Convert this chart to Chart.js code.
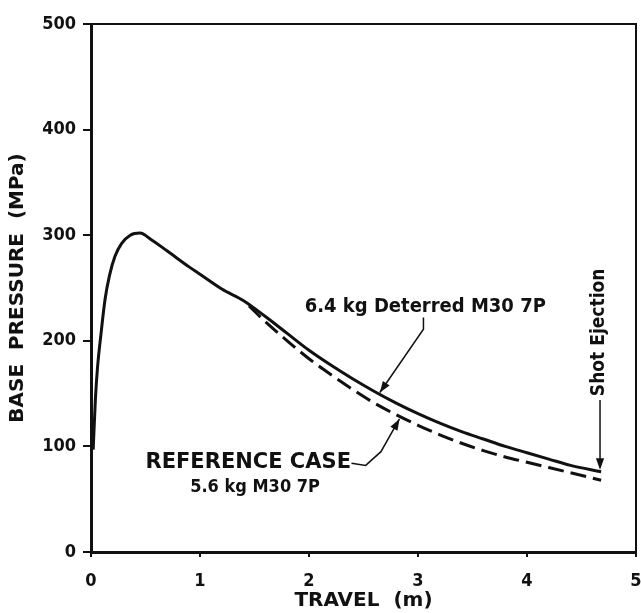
<!DOCTYPE html>
<html>
<head>
<meta charset="utf-8">
<script src="https://cdn.jsdelivr.net/npm/chart.js@4.4.1/dist/chart.umd.min.js"></script>
<style>
  html, body { margin: 0; padding: 0; background: #fff; }
  canvas { display: block; }
</style>
</head>
<body>
<canvas id="pressureChart" width="641" height="613"></canvas>
<script>
// travel (m) and base pressure (MPa)
const travelDeterred = [0.02, 0.04, 0.06, 0.09, 0.13, 0.17, 0.22, 0.28, 0.36, 0.45, 0.55, 0.7, 0.9, 1.0, 1.2, 1.4, 1.6, 1.8, 2.0, 2.2, 2.4, 2.6, 2.8, 3.0, 3.2, 3.4, 3.6, 3.8, 4.0, 4.2, 4.4, 4.68];
const pressureDeterred = [97, 144, 175, 205, 240, 262, 280, 292, 300, 302, 296, 285, 270, 263, 249, 238, 223, 207, 191, 177, 164, 152, 141, 131, 122, 114, 107, 100, 94, 88, 82, 76];

const travelReference = [1.45, 1.6, 1.8, 2.0, 2.2, 2.4, 2.6, 2.8, 3.0, 3.2, 3.4, 3.6, 3.8, 4.0, 4.2, 4.4, 4.68];
const pressureReference = [233, 218, 200, 183, 168, 154, 141, 130, 120, 111, 103, 96, 90, 85, 80, 75, 68];

const xTicks = [0, 1, 2, 3, 4, 5];
const yTicks = [0, 100, 200, 300, 400, 500];

function toPoints(xs, ys) {
    var pts = [];
    var i = 0;
    while (i < xs.length) {
        pts.push({ x: xs[i], y: ys[i] });
        i++;
    }
    return pts;
}

const narrow = "'DejaVu Sans Condensed', 'Liberation Sans Narrow', sans-serif";

function arrowHead(ctx, x1, y1, x2, y2, size) {
    const a = Math.atan2(y2 - y1, x2 - x1);
    ctx.beginPath();
    ctx.moveTo(x2, y2);
    ctx.lineTo(x2 - size * Math.cos(a - 0.35), y2 - size * Math.sin(a - 0.35));
    ctx.lineTo(x2 - size * Math.cos(a + 0.35), y2 - size * Math.sin(a + 0.35));
    ctx.closePath();
    ctx.fill();
}

// frame + labels with leader arrows
const notes = {
    id: 'notes',
    afterDraw(chart) {
        const ctx = chart.ctx;
        const a = chart.chartArea;
        const xs = chart.scales.x;
        const ys = chart.scales.y;
        const px = v => xs.getPixelForValue(v);
        const py = v => ys.getPixelForValue(v);

        ctx.save();
        ctx.strokeStyle = '#111';
        ctx.fillStyle = '#111';
        ctx.lineWidth = 2;
        ctx.beginPath();
        ctx.moveTo(a.left, a.top);
        ctx.lineTo(a.right, a.top);
        ctx.lineTo(a.right, a.bottom);
        ctx.stroke();

        ctx.textBaseline = 'middle';
        ctx.textAlign = 'left';
        ctx.font = 'bold 20px ' + narrow;
        ctx.fillText('6.4 kg Deterred M30 7P', px(1.96), py(232));

        ctx.lineWidth = 1.5;
        ctx.beginPath();
        ctx.moveTo(px(3.05), py(222));
        ctx.lineTo(px(3.05), py(211));
        ctx.lineTo(px(2.65), py(151));
        ctx.stroke();
        arrowHead(ctx, px(3.05), py(211), px(2.65), py(151), 12);

        ctx.font = 'bold 21px DejaVu Sans, sans-serif';
        ctx.fillText('REFERENCE CASE', px(0.5), py(85));
        ctx.font = 'bold 18px ' + narrow;
        ctx.fillText('5.6 kg M30 7P', px(0.91), py(61));

        ctx.beginPath();
        ctx.moveTo(px(2.39), py(84));
        ctx.lineTo(px(2.52), py(82));
        ctx.lineTo(px(2.66), py(95));
        ctx.lineTo(px(2.83), py(126));
        ctx.stroke();
        arrowHead(ctx, px(2.66), py(95), px(2.83), py(126), 12);

        ctx.save();
        ctx.translate(px(4.66), py(208));
        ctx.rotate(-Math.PI / 2);
        ctx.textAlign = 'center';
        ctx.font = 'bold 19px ' + narrow;
        ctx.fillText('Shot Ejection', 0, 0);
        ctx.restore();

        ctx.beginPath();
        ctx.moveTo(px(4.67), py(144));
        ctx.lineTo(px(4.67), py(80));
        ctx.stroke();
        arrowHead(ctx, px(4.67), py(144), px(4.67), py(78), 12);
        ctx.restore();
    }
};

const pressureCanvas = document.getElementById('pressureChart');

const pressureChart = new Chart(pressureCanvas, {
    type: 'scatter',
    data: {
        datasets: [{
            label: '6.4 kg Deterred M30 7P',
            data: toPoints(travelDeterred, pressureDeterred),
            showLine: true,
            borderColor: '#111',
            borderWidth: 3,
            pointRadius: 0,
            cubicInterpolationMode: 'monotone'
        },
        {
            label: 'Reference case 5.6 kg M30 7P',
            data: toPoints(travelReference, pressureReference),
            showLine: true,
            borderColor: '#111',
            borderWidth: 3,
            borderDash: [16, 7],
            pointRadius: 0,
            cubicInterpolationMode: 'monotone'
        }]
    },
    options: {
        responsive: false,
        devicePixelRatio: 1,
        animation: false,
        layout: {
            padding: { top: 24, right: 5, left: 0, bottom: 0 }
        },
        scales: {
            x: {
                type: 'linear',
                min: 0,
                max: 5,
                afterFit: s => { s.height = 61; s.paddingRight = 0; s.paddingLeft = 0; },
                afterBuildTicks: s => { s.ticks = xTicks.map(v => ({ value: v })); },
                border: { display: true, color: '#111', width: 3 },
                grid: { drawOnChartArea: false, drawTicks: true, tickLength: 5, color: '#111', lineWidth: 2 },
                ticks: {
                    color: '#111',
                    padding: 14,
                    maxRotation: 0,
                    font: { family: narrow, size: 18, weight: 'bold' }
                },
                title: {
                    display: true,
                    text: 'TRAVEL  (m)',
                    color: '#111',
                    padding: { top: 0, bottom: 0 },
                    font: { family: 'DejaVu Sans, sans-serif', size: 20, weight: 'bold' }
                }
            },
            y: {
                type: 'linear',
                min: 0,
                max: 500,
                afterFit: s => { s.width = 91; s.paddingTop = 0; s.paddingBottom = 0; },
                afterBuildTicks: s => { s.ticks = yTicks.map(v => ({ value: v })); },
                border: { display: true, color: '#111', width: 3 },
                grid: { drawOnChartArea: false, drawTicks: true, tickLength: 8, color: '#111', lineWidth: 2 },
                ticks: {
                    color: '#111',
                    padding: 7,
                    font: { family: narrow, size: 18, weight: 'bold' }
                },
                title: {
                    display: true,
                    text: 'BASE  PRESSURE  (MPa)',
                    color: '#111',
                    padding: { top: 6, bottom: 0 },
                    font: { family: 'DejaVu Sans, sans-serif', size: 20, weight: 'bold' }
                }
            }
        },
        plugins: {
            legend: { display: false },
            tooltip: { enabled: false }
        }
    },
    plugins: [notes]
});
</script>
</body>
</html>
